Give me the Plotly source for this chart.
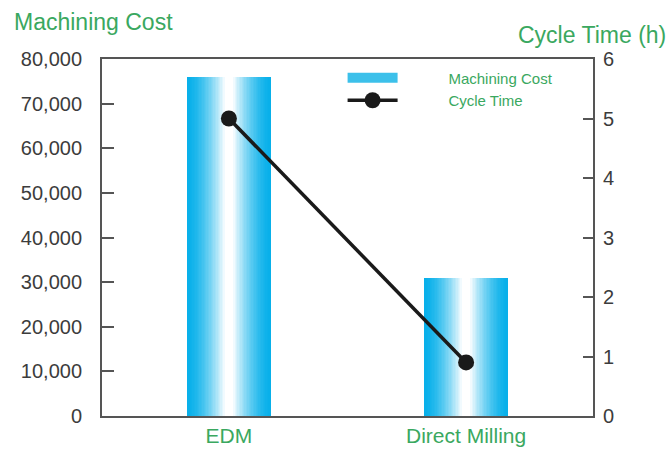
import plotly.graph_objects as go

categories = ["EDM", "Direct Milling"]
machining_cost = [76000, 31000]
cycle_time = [5.0, 0.9]
cost_ticks = [0, 10000, 20000, 30000, 40000, 50000, 60000, 70000, 80000]
time_ticks = [0, 1, 2, 3, 4, 5, 6]

GREEN = "#3aa860"
TICK = "#3c3c3c"
AXIS = "#555555"
CYAN = (8, 176, 234)
FONT = "Arial, Liberation Sans, sans-serif"

fig = go.Figure()

# gradient bars: overlaid, progressively narrower and lighter
N = 30
BAR_W = 0.355
for i in range(N):
    f = 1 - i / N
    t = min(1.0, (1 - f) / 0.9) ** 1.6
    c = tuple(round(CYAN[k] * (1 - t) + 255 * t) for k in range(3))
    fig.add_trace(go.Bar(
        x=categories, y=machining_cost, width=BAR_W * f,
        marker=dict(color="rgb(%d,%d,%d)" % c, line=dict(width=0)),
        showlegend=False, hoverinfo="skip" if i else "x+y", yaxis="y",
    ))

PAD = "\u00a0" * 11

# legend entry for the bars
fig.add_trace(go.Scatter(
    x=[None], y=[None], mode="lines", name=PAD + "Machining Cost",
    line=dict(color="#3cc0ea", width=10), yaxis="y",
))

fig.add_trace(go.Scatter(
    x=categories, y=cycle_time, mode="lines+markers", name=PAD + "Cycle Time",
    line=dict(color="#1a1a1a", width=3.5),
    marker=dict(color="#1a1a1a", size=16),
    yaxis="y2",
))

fig.update_layout(
    width=670, height=450,
    margin=dict(l=102, r=77, t=59, b=34, autoexpand=False),
    paper_bgcolor="white", plot_bgcolor="white",
    barmode="overlay", bargap=0,
    font=dict(family=FONT, color=TICK, size=20),
    xaxis=dict(
        showline=True, linecolor=AXIS, linewidth=2, mirror=True,
        ticks="", showgrid=False, zeroline=False, automargin=False,
        tickfont=dict(color=GREEN, size=21, family=FONT),
        range=[-0.535, 1.535],
    ),
    yaxis=dict(
        range=[0, 80000], tickvals=cost_ticks, tickformat=",",
        showline=True, linecolor=AXIS, linewidth=2, automargin=False,
        ticks="inside", ticklen=12, tickcolor=AXIS, tickwidth=2,
        showgrid=False, zeroline=False, ticklabelstandoff=14,
        tickfont=dict(color=TICK, size=20, family=FONT),
    ),
    yaxis2=dict(
        range=[0, 6], tickvals=time_ticks, overlaying="y", side="right",
        showline=True, linecolor=AXIS, linewidth=2, automargin=False,
        ticks="inside", ticklen=10, tickcolor=AXIS, tickwidth=2,
        showgrid=False, zeroline=False, ticklabelstandoff=4,
        tickfont=dict(color=TICK, size=20, family=FONT),
    ),
    legend=dict(
        x=0.49, y=0.993, xanchor="left", yanchor="top",
        bgcolor="rgba(0,0,0,0)", borderwidth=0,
        font=dict(color=GREEN, size=15, family=FONT),
        itemwidth=50, tracegroupgap=0,
    ),
    annotations=[
        dict(text="Machining Cost", xref="paper", yref="paper",
             x=-0.183, y=1.103, xanchor="left", yanchor="middle",
             showarrow=False, font=dict(color=GREEN, size=23, family=FONT)),
        dict(text="Cycle Time (h)", xref="paper", yref="paper",
             x=1.153, y=1.067, xanchor="right", yanchor="middle",
             showarrow=False, font=dict(color=GREEN, size=23, family=FONT)),
    ],
)

fig.write_html("out.html")
